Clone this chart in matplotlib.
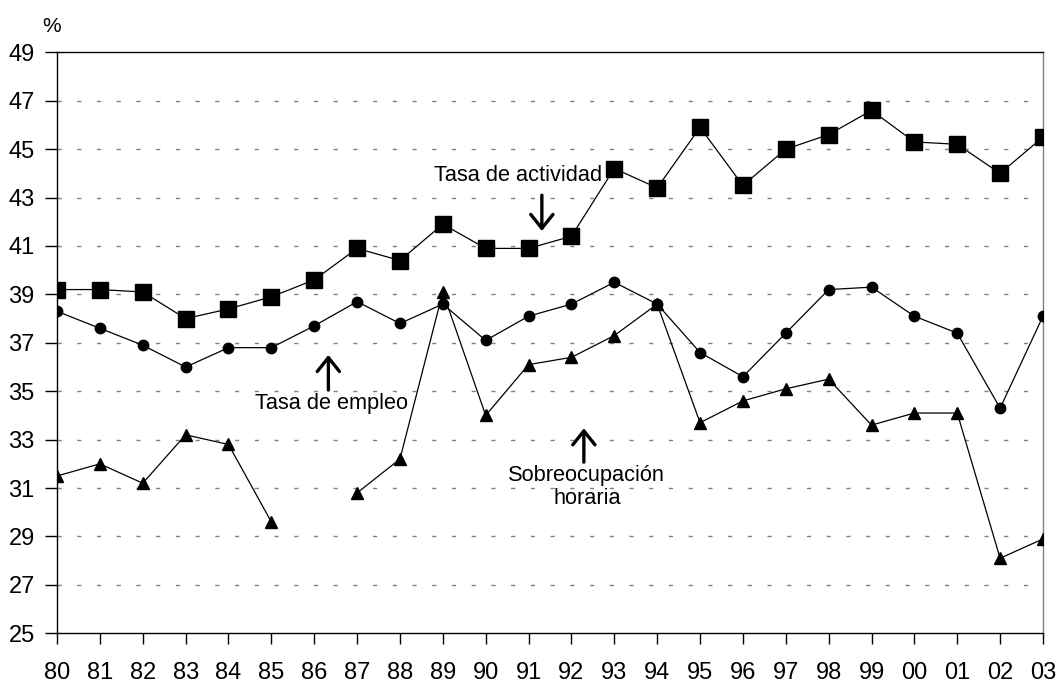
import numpy as np
import matplotlib
matplotlib.use("Agg")
import matplotlib.pyplot as plt

plt.rcParams["font.family"] = ["Liberation Sans", "DejaVu Sans"]

# years shown as two-digit labels
years = ["80", "81", "82", "83", "84", "85", "86", "87", "88", "89", "90", "91",
         "92", "93", "94", "95", "96", "97", "98", "99", "00", "01", "02", "03"]

tasa_actividad = [39.2, 39.2, 39.1, 38.0, 38.4, 38.9, 39.6, 40.9, 40.4, 41.9, 40.9, 40.9,
                  41.4, 44.2, 43.4, 45.9, 43.5, 45.0, 45.6, 46.6, 45.3, 45.2, 44.0, 45.5]
tasa_empleo = [38.3, 37.6, 36.9, 36.0, 36.8, 36.8, 37.7, 38.7, 37.8, 38.6, 37.1, 38.1,
               38.6, 39.5, 38.6, 36.6, 35.6, 37.4, 39.2, 39.3, 38.1, 37.4, 34.3, 38.1]
# no value for 86
sobreocupacion = [31.5, 32.0, 31.2, 33.2, 32.8, 29.6, np.nan, 30.8, 32.2, 39.1, 34.0, 36.1,
                  36.4, 37.3, 38.6, 33.7, 34.6, 35.1, 35.5, 33.6, 34.1, 34.1, 28.1, 28.9]

y_ticks = list(range(25, 50, 2))

fig = plt.figure(figsize=(10.58, 6.84), dpi=100)
ax = fig.add_axes([0.0539, 0.0741, 0.9319, 0.8494])

x = np.arange(len(years))
ax.plot(x, tasa_actividad, color="black", lw=0.9, marker="s", ms=11, zorder=3)
ax.plot(x, tasa_empleo, color="black", lw=0.9, marker="o", ms=7.5, zorder=3)
ax.plot(x, sobreocupacion, color="black", lw=0.9, marker="^", ms=8.5, zorder=3)

# dashed horizontal grid (top one is the frame)
for yv in y_ticks[1:-1]:
    ax.axhline(yv, color="#808080", lw=1.0, dashes=(3, 11.2), zorder=1)

ax.set_xlim(0, len(years) - 1)
ax.set_ylim(25, 49)
ax.set_xticks(x)
ax.set_xticklabels(years)
ax.set_yticks(y_ticks)
ax.tick_params(axis="x", direction="out", length=8, width=1, pad=13, labelsize=17)
ax.tick_params(axis="y", direction="out", length=9, width=1, pad=7, labelsize=17)
for s in ["left", "bottom", "top"]:
    ax.spines[s].set_color("black")
    ax.spines[s].set_linewidth(1.0)
ax.spines["right"].set_color("#808080")
ax.spines["right"].set_linewidth(1.0)

fig.text(52 / 1058, 1 - 27 / 684, "%", ha="center", va="center", fontsize=15)

arrow = dict(arrowstyle="->,head_length=0.5,head_width=0.4", color="black", lw=2.4,
             mutation_scale=20, shrinkA=0, shrinkB=0)

ax.text(10.75, 43.9, "Tasa de actividad", ha="center", va="center", fontsize=15.7)
ax.annotate("", xy=(11.31, 41.62), xytext=(11.31, 43.1), arrowprops=arrow)

ax.text(6.41, 34.5, "Tasa de empleo", ha="center", va="center", fontsize=15.7)
ax.annotate("", xy=(6.33, 36.5), xytext=(6.33, 35.05), arrowprops=arrow)

ax.text(12.36, 31.06, "Sobreocupación\nhoraria", ha="center", va="center",
        fontsize=15.7, linespacing=1.12)
ax.annotate("", xy=(12.29, 33.47), xytext=(12.29, 32.07), arrowprops=arrow)

fig.savefig("out.png", dpi=100)
